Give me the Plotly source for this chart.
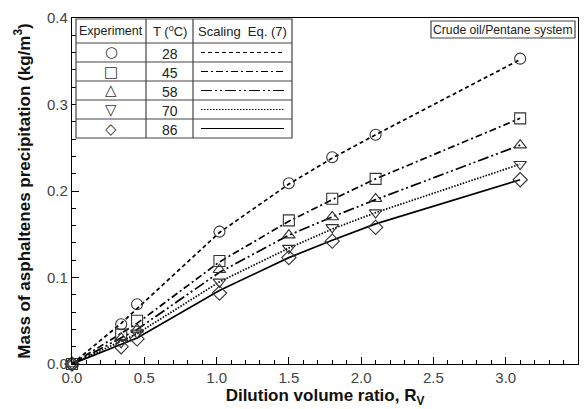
import plotly.graph_objects as go

# ---------------- data ----------------
x_exp = [0.0, 0.34, 0.45, 1.02, 1.50, 1.80, 2.10, 3.10]
temps = ["28", "45", "58", "70", "86"]
m28 = [0.0, 0.046, 0.069, 0.153, 0.209, 0.239, 0.265, 0.353]
m45 = [0.0, 0.034, 0.050, 0.119, 0.166, 0.191, 0.214, 0.284]
m58 = [0.0, 0.030, 0.040, 0.109, 0.149, 0.170, 0.191, 0.253]
m70 = [0.0, 0.025, 0.036, 0.095, 0.134, 0.158, 0.175, 0.231]
m86 = [0.0, 0.020, 0.029, 0.082, 0.123, 0.142, 0.158, 0.213]

x_fit = [0.0, 0.34, 0.45, 1.02, 1.50, 1.80, 2.10, 3.10]
f28 = [0.0, 0.047, 0.064, 0.152, 0.208, 0.238, 0.265, 0.352]
f45 = [0.0, 0.035, 0.047, 0.118, 0.165, 0.190, 0.214, 0.284]
f58 = [0.0, 0.030, 0.040, 0.106, 0.149, 0.170, 0.190, 0.253]
f70 = [0.0, 0.026, 0.035, 0.095, 0.134, 0.156, 0.175, 0.231]
f86 = [0.0, 0.022, 0.030, 0.085, 0.123, 0.143, 0.162, 0.213]

x_ticks = [0.0, 0.5, 1.0, 1.5, 2.0, 2.5, 3.0, 3.5]
y_ticks = [0.0, 0.1, 0.2, 0.3, 0.4]

series = [
    (m28, f28, "circle-open", "4px,3px", "○"),
    (m45, f45, "square-open", "7px,3px,2px,3px", "□"),
    (m58, f58, "triangle-up-open", "11px,3px,2px,3px,2px,3px", "△"),
    (m70, f70, "triangle-down-open", "1.5px,1.5px", "▽"),
    (m86, f86, "diamond-open", "solid", "◇"),
]

W, H = 587, 409
L, R, T, B = 72, 9, 18, 45
PW, PH = W - L - R, H - T - B

def px(xp):
    return (xp - L) / PW

def py(yp):
    return (H - B - yp) / PH

FONT = "Liberation Sans"

fig = go.Figure()
for (m, f, sym, dash, _), t in zip(series, temps):
    fig.add_trace(go.Scatter(x=x_fit, y=f, mode="lines",
                             line=dict(color="black", width=1.7, dash=dash),
                             showlegend=False, hoverinfo="skip"))
for (m, f, sym, dash, _), t in zip(series, temps):
    fig.add_trace(go.Scatter(x=x_exp, y=m, mode="markers", name=t + " °C",
                             marker=dict(symbol=sym, size=11, color="#333333",
                                         line=dict(width=1.1, color="#333333")),
                             showlegend=False, cliponaxis=False))

shapes = []
annos = []
lc = "#444444"
# table
tx0, tx1, ty0, ty1 = 76, 292, 19, 138
shapes.append(dict(type="rect", xref="paper", yref="paper", x0=px(tx0), x1=px(tx1),
                   y0=py(ty1), y1=py(ty0), line=dict(color=lc, width=1.2),
                   fillcolor="white", layer="above"))
for cx in [146, 193]:
    shapes.append(dict(type="line", xref="paper", yref="paper", x0=px(cx), x1=px(cx),
                       y0=py(ty1), y1=py(ty0), line=dict(color=lc, width=1.2)))
rows = [19, 43, 62, 81, 100, 119, 138]
for ry in rows[1:-1]:
    shapes.append(dict(type="line", xref="paper", yref="paper", x0=px(tx0), x1=px(tx1),
                       y0=py(ry), y1=py(ry), line=dict(color=lc, width=1.2)))

font_t = dict(family=FONT, size=13, color="#222222")
annos.append(dict(x=px(111), y=py(31), text="Experiment", font=dict(family=FONT, size=12.5, color="#222222")))
annos.append(dict(x=px(169.5), y=py(31), text="T (<sup>o</sup>C)", font=font_t))
annos.append(dict(x=px(242.5), y=py(31), text="Scaling  Eq. (7)", font=font_t))
for i, ((m, f, sym, dash, uni), t) in enumerate(zip(series, temps)):
    yc = (rows[i + 1] + rows[i + 2]) / 2
    annos.append(dict(x=px(111), y=py(yc), text=uni,
                      font=dict(family="DejaVu Sans", size=15, color="#333333")))
    annos.append(dict(x=px(169.5), y=py(yc + 1), text=t,
                      font=dict(family=FONT, size=14, color="#222222")))
    shapes.append(dict(type="line", xref="paper", yref="paper", x0=px(201), x1=px(284),
                       y0=py(yc), y1=py(yc), line=dict(color="black", width=1.2, dash=dash)))

# system label box
shapes.append(dict(type="rect", xref="paper", yref="paper", x0=px(431), x1=px(575),
                   y0=py(38), y1=py(21), line=dict(color=lc, width=1.2)))
annos.append(dict(x=px(503), y=py(29.5), text="Crude oil/Pentane system",
                  font=dict(family=FONT, size=12.2, color="#222222")))

for a in annos:
    a.update(xref="paper", yref="paper", showarrow=False, xanchor="center", yanchor="middle")

axis_font = dict(family=FONT, size=15, color="#444444")
fig.update_layout(
    width=W, height=H, margin=dict(l=L, r=R, t=T, b=B),
    plot_bgcolor="white", paper_bgcolor="white",
    shapes=shapes, annotations=annos,
    xaxis=dict(range=[0, 3.5], tickvals=x_ticks, ticktext=[f"{v:.1f}" for v in x_ticks],
               ticks="inside", ticklen=7, tickwidth=1, tickcolor="black",
               minor=dict(dtick=0.1, ticks="inside", ticklen=4, tickcolor="black"),
               showline=True, linecolor="black", linewidth=1.2, mirror=True,
               showgrid=False, zeroline=False, tickfont=axis_font,
               title=dict(text="<b>Dilution volume ratio, R<sub>V</sub></b>",
                          font=dict(family=FONT, size=17, color="#111111"),
                          standoff=0)),
    yaxis=dict(range=[0, 0.4], tickvals=y_ticks, ticktext=[f"{v:.1f}" for v in y_ticks],
               ticks="inside", ticklen=7, tickwidth=1, tickcolor="black",
               minor=dict(dtick=0.02, ticks="inside", ticklen=4, tickcolor="black"),
               showline=True, linecolor="black", linewidth=1.2, mirror=True,
               showgrid=False, zeroline=False, tickfont=axis_font,
               title=dict(text="<b>Mass of asphaltenes precipitation (kg/m<sup>3</sup>)</b>",
                          font=dict(family=FONT, size=17, color="#111111"),
                          standoff=12)),
)
fig.write_html("out.html")
